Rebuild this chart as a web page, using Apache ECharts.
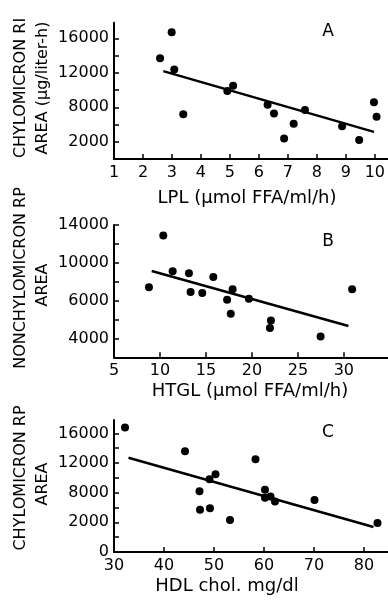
<!DOCTYPE html>
<html><head><meta charset="utf-8">
<script src="https://cdn.jsdelivr.net/npm/echarts@6/dist/echarts.min.js"></script>
<style>html,body{margin:0;padding:0;background:#fff}#c{width:388px;height:601px}</style>
</head><body><div id="c"></div>
<script>
// ---- Panel A: LPL vs chylomicron RI area ----
const lplX   = [2.59, 2.99, 3.08, 3.39, 4.91, 5.11, 6.30, 6.52, 6.87, 7.20, 7.59, 8.87, 9.46, 9.97, 10.06];
const chyRiY = [13700, 16700, 12400, 7200, 9900, 10500, 8300, 7300, 4400, 6100, 7700, 5800, 4200, 8600, 6900];
const fitA   = [[2.70, 12200], [9.97, 5160]];
const xTicksA = [2, 3, 4, 5, 6, 7, 8, 9, 10];
const xLabelValsA = [1, 2, 3, 4, 5, 6, 7, 8, 9, 10];
const xLabelTextA = ['1', '2', '3', '4', '5', '6', '7', '8', '9', '10'];
const yTicksA = [4000, 6000, 8000, 10000, 12000, 14000, 16000];
const yLabelValsA = [4000, 8000, 12000, 16000];
const yLabelTextA = ['2000', '8000', '12000', '16000'];

// ---- Panel B: HTGL vs nonchylomicron RP area ----
const htglX  = [8.80, 10.36, 11.38, 13.15, 13.33, 14.60, 15.80, 17.30, 17.70, 17.90, 19.67, 22.07, 21.96, 27.47, 30.90];
const nonRpY = [7400, 12900, 9100, 8900, 6900, 6800, 8500, 6100, 4600, 7200, 6200, 3900, 3100, 2200, 7200];
const fitB   = [[9.10, 9130], [30.50, 3310]];
const xTicksB = [10, 15, 20, 25, 30];
const xLabelValsB = [5, 10, 15, 20, 25, 30];
const xLabelTextB = ['5', '10', '15', '20', '25', '30'];
const yTicksB = [2000, 4000, 6000, 8000, 10000, 12000, 14000];
const yLabelValsB = [2000, 6000, 10000, 14000];
const yLabelTextB = ['4000', '6000', '10000', '14000'];

// ---- Panel C: HDL chol vs chylomicron RP area ----
const hdlX  = [32.2, 44.2, 47.1, 47.2, 49.1, 49.2, 50.3, 53.2, 58.3, 60.2, 60.2, 61.3, 62.2, 70.1, 82.7];
const chyRpY = [16800, 13600, 8200, 5700, 9800, 5900, 10500, 4300, 12500, 8400, 7300, 7500, 6800, 7000, 3900];
const fitC   = [[32.9, 12700], [81.9, 3380]];
const xTicksC = [40, 50, 60, 70, 80];
const xLabelValsC = [30, 40, 50, 60, 70, 80];
const xLabelTextC = ['30', '40', '50', '60', '70', '80'];
const yTicksC = [2000, 4000, 6000, 8000, 10000, 12000, 14000, 16000];
const yLabelValsC = [0, 4000, 8000, 12000, 16000];
const yLabelTextC = ['0', '2000', '8000', '12000', '16000'];

const FONT = 'DejaVu Sans';
const axisLine = { show: true, onZero: false, lineStyle: { color: '#000', width: 2 } };
function mkX(idx, min, max, ticks, lv, lt) {
  return {
    type: 'value', gridIndex: idx, min: min, max: max,
    axisLine: axisLine, splitLine: { show: false },
    axisTick: { show: true, inside: true, length: 5, customValues: ticks, lineStyle: { color: '#000', width: 1.5 } },
    axisLabel: { show: true, customValues: lv, margin: 6, color: '#000', fontFamily: FONT, fontSize: 16,
      formatter: v => { const i = lv.indexOf(v); return i >= 0 ? lt[i] : ''; } }
  };
}
function mkY(idx, min, max, ticks, lv, lt) {
  return {
    type: 'value', gridIndex: idx, min: min, max: max,
    axisLine: axisLine, splitLine: { show: false },
    axisTick: { show: true, inside: true, length: 5, customValues: ticks, lineStyle: { color: '#000', width: 1.5 } },
    axisLabel: { show: true, customValues: lv, margin: 5, color: '#000', fontFamily: FONT, fontSize: 16,
      formatter: v => { const i = lv.indexOf(v); return i >= 0 ? lt[i] : ''; } }
  };
}
function pts(xs, ys) { return xs.map((x, i) => [x, ys[i]]); }
function scat(idx, data) {
  return { type: 'scatter', xAxisIndex: idx, yAxisIndex: idx, data: data, symbolSize: 8,
    itemStyle: { color: '#000', opacity: 1 }, silent: true, z: 3 };
}
function fit(idx, data) {
  return { type: 'line', xAxisIndex: idx, yAxisIndex: idx, data: data, symbol: 'none',
    lineStyle: { color: '#000', width: 2.5 }, silent: true, z: 2 };
}
function txt(x, y, s, rot, size) {
  return { type: 'text', x: x, y: y, rotation: rot || 0,
    style: { text: s, fill: '#000', font: (size || 16) + 'px "' + FONT + '"', textAlign: 'center', textVerticalAlign: 'middle' } };
}

const chart = echarts.init(document.getElementById('c'), null, { renderer: 'canvas' });
chart.setOption({
  animation: false,
  backgroundColor: '#fff',
  grid: [
    { left: 114, top: 22.8, width: 274, height: 136.3 },
    { left: 114, top: 225, width: 274, height: 132.3 },
    { left: 114, top: 420, width: 274, height: 132 }
  ],
  xAxis: [
    mkX(0, 1, 10.45, xTicksA, xLabelValsA, xLabelTextA),
    mkX(1, 5, 34.8, xTicksB, xLabelValsB, xLabelTextB),
    mkX(2, 30, 84.8, xTicksC, xLabelValsC, xLabelTextC)
  ],
  yAxis: [
    mkY(0, 2000, 17800, yTicksA, yLabelValsA, yLabelTextA),
    mkY(1, 0, 14000, yTicksB, yLabelValsB, yLabelTextB),
    mkY(2, 0, 17800, yTicksC, yLabelValsC, yLabelTextC)
  ],
  series: [
    fit(0, fitA), scat(0, pts(lplX, chyRiY)),
    fit(1, fitB), scat(1, pts(htglX, nonRpY)),
    fit(2, fitC), scat(2, pts(hdlX, chyRpY))
  ],
  graphic: [
    txt(21, 88, 'CHYLOMICRON RI', Math.PI / 2),
    txt(43, 88, 'AREA (μg/liter-h)', Math.PI / 2),
    txt(21, 278, 'NONCHYLOMICRON RP', Math.PI / 2),
    txt(43, 285, 'AREA', Math.PI / 2),
    txt(21, 478, 'CHYLOMICRON RP', Math.PI / 2),
    txt(43, 484, 'AREA', Math.PI / 2),
    txt(328, 32, 'A', 0, 17),
    txt(328, 242, 'B', 0, 17),
    txt(328, 433, 'C', 0, 17),
    txt(247, 198, 'LPL (μmol FFA/ml/h)', 0, 18),
    txt(250, 391, 'HTGL (μmol FFA/ml/h)', 0, 18),
    txt(227, 586, 'HDL chol. mg/dl', 0, 18)
  ]
});
</script></body></html>
